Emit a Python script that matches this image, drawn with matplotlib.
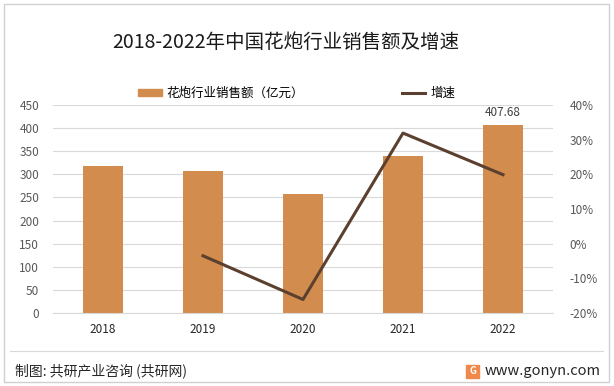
import matplotlib
matplotlib.use("Agg")
import matplotlib.pyplot as plt
from matplotlib.lines import Line2D
from matplotlib.patches import Patch, Rectangle

plt.rcParams['font.family'] = ['Noto Sans CJK SC', 'DejaVu Sans']

# data
years = ['2018', '2019', '2020', '2021', '2022']
sales = [318.0, 306.9, 257.6, 339.9, 407.68]      # 亿元
growth = [None, -3.5, -16.1, 31.9, 19.9]          # %
left_ticks = [0, 50, 100, 150, 200, 250, 300, 350, 400, 450]
right_ticks = [-20, -10, 0, 10, 20, 30, 40]

bar_color = '#D28C4E'
line_color = '#5B4030'
tick_color = '#595959'

fig = plt.figure(figsize=(6.14, 3.86), dpi=100)
ax = fig.add_axes([53 / 614, 73 / 386, 500 / 614, 208 / 386])

x = list(range(len(years)))
ax.bar(x, sales, width=0.4, color=bar_color, zorder=2)
ax.set_xlim(-0.5, len(years) - 0.5)
ax.set_ylim(0, 450)
ax.set_yticks(left_ticks)
ax.set_xticks(x)
ax.set_xticklabels(years, fontsize=8.5, color='#262626')
ax.tick_params(axis='y', labelsize=8.5, colors=tick_color, length=0, pad=10)
ax.tick_params(axis='x', length=0, pad=7)
ax.grid(axis='y', color='#D9D9D9', linewidth=0.8, zorder=0)
for s in ['top', 'left', 'right']:
    ax.spines[s].set_visible(False)
ax.spines['bottom'].set_color('#D9D9D9')

ax.annotate(f'{sales[-1]:.2f}', (x[-1], sales[-1]), xytext=(0, 4),
            textcoords='offset points', ha='center', va='bottom',
            fontsize=8.5, color='#404040')

ax2 = ax.twinx()
gx = [i for i, g in zip(x, growth) if g is not None]
gy = [g for g in growth if g is not None]
ax2.plot(gx, gy, color=line_color, linewidth=2.2, zorder=3)
ax2.set_ylim(-20, 40)
ax2.set_yticks(right_ticks)
ax2.set_yticklabels([f'{t}%' for t in right_ticks])
ax2.tick_params(axis='y', labelsize=8.5, colors=tick_color, length=0, pad=12)
for s in ax2.spines.values():
    s.set_visible(False)

fig.text(0.465, 0.89, '2018-2022年中国花炮行业销售额及增速', ha='center',
         va='center', fontsize=14, color='#1a1a1a')

handles = [Patch(color=bar_color), Line2D([], [], color=line_color, linewidth=2.2)]
fig.legend(handles, ['花炮行业销售额（亿元）', '增速'], loc='center',
           bbox_to_anchor=(0.483, 0.758), ncol=2, frameon=False, fontsize=9,
           handlelength=1.9, handleheight=0.6, columnspacing=7.8, handletextpad=0.4)

# footer
fig.add_artist(Line2D([10 / 614, 603 / 614], [1 - 351 / 386, 1 - 351 / 386],
                      color='#D9D9D9', linewidth=0.8))
fig.text(15 / 614, 1 - 371 / 386, '制图: 共研产业咨询 (共研网)', ha='left',
         va='center', fontsize=10, color='#262626')
fig.text(601 / 614, 1 - 371 / 386, 'www.gonyn.com', ha='right',
         va='center', fontsize=10.5, color='#262626')
fig.add_artist(Rectangle((466 / 614, 1 - 378 / 386), 13 / 614, 13 / 386,
                         color='#F0884A'))
fig.text(472.5 / 614, 1 - 371.5 / 386, 'G', ha='center', va='center',
         fontsize=7, color='white', fontweight='bold')

# outer frame
fig.add_artist(Rectangle((4 / 614, 4 / 386), 605 / 614, 378 / 386,
                         fill=False, edgecolor='#D0D0D0', linewidth=1))

fig.savefig('out.png', dpi=100)
